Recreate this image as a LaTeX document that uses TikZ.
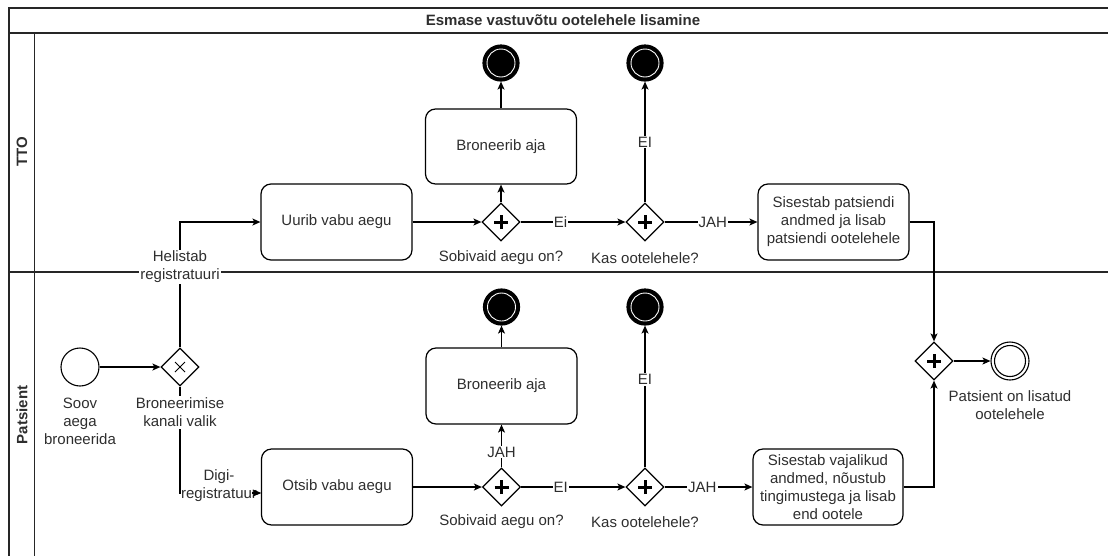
\documentclass[tikz,border=0pt]{standalone}
\usepackage{fontspec}
\setmainfont{Liberation Sans}
\usetikzlibrary{arrows.meta,shapes.geometric,calc}
\begin{document}
\begin{tikzpicture}[x=1pt,y=-1pt,
  every node/.style={text=black!82, font=\fontsize{15}{18}\selectfont},
  frame/.style={draw=black!85, line width=1.3pt},
  task/.style={draw, rounded corners=10pt, minimum width=151pt, minimum height=76pt, inner sep=2pt, align=center, line width=1.2pt},
  gw/.style={diamond, draw, aspect=1, minimum width=38pt, minimum height=38pt, inner sep=0pt, line width=1.2pt},
  gwplus/.style={gw, path picture={\draw[black, line width=3pt] ([xshift=-7pt]path picture bounding box.center) -- ([xshift=7pt]path picture bounding box.center) ([yshift=-7pt]path picture bounding box.center) -- ([yshift=7pt]path picture bounding box.center);}},
  gwx/.style={gw, path picture={\draw[black, line width=1pt] ([shift={(-5pt,-5pt)}]path picture bounding box.center) -- ([shift={(5pt,5pt)}]path picture bounding box.center) ([shift={(-5pt,5pt)}]path picture bounding box.center) -- ([shift={(5pt,-5pt)}]path picture bounding box.center);}},
  startev/.style={circle, draw, minimum size=38pt, inner sep=0pt, line width=1.1pt},
  endterm/.style={circle, draw, fill=black, minimum size=36pt, inner sep=0pt, line width=1.2pt, path picture={\draw[white, line width=0.9pt] (path picture bounding box.center) circle (14pt);}},
  endplain/.style={circle, draw, minimum size=38pt, inner sep=0pt, line width=1.1pt, path picture={\draw[black, line width=1.1pt] (path picture bounding box.center) circle (15.5pt);}},
  lbl/.style={fill=white, inner sep=1pt},
  txt/.style={align=center, inner sep=0pt},
  flow/.style={draw=black, line width=1.2pt, -{Stealth[length=8pt,width=7pt,inset=2pt]}}
]
\useasboundingbox (0,0) rectangle (1108,555);

% pool and lanes
\draw[frame] (9,560) -- (9,8) -- (1112,8);
\draw[frame] (9,33) -- (1112,33);
\draw[frame] (34.5,33) -- (34.5,560);
\draw[frame] (9,272) -- (1112,272);
\node[font=\bfseries\fontsize{15}{18}\selectfont] (title) at (563,20.5) {Esmase vastuvõtu ootelehele lisamine};
\node[rotate=90, font=\bfseries\fontsize{15}{18}\selectfont] (tto) at (22,152) {TTO};
\node[rotate=90, font=\bfseries\fontsize{15}{18}\selectfont] (pat) at (22,415) {Patsient};

% TTO lane
\node[task] (uurib) at (336.5,222) {Uurib vabu aegu};
\node[task, minimum height=75pt] (bron1) at (501,146.5) {Broneerib aja};
\node[endterm] (end1) at (501,63) {};
\node[gwplus] (g1) at (501,222) {};
\node[gwplus] (g2) at (645,222) {};
\node[endterm] (end2) at (645,63) {};
\node[task] (sis1) at (833.5,222) {Sisestab patsiendi\\andmed ja lisab\\patsiendi ootelehele};
\node[txt] (g1t) at (501,258) {Sobivaid aegu on?};
\node[txt] (g2t) at (645,258) {Kas ootelehele?};

% Patsient lane
\node[startev] (start) at (80,367) {};
\node[txt] (startt) at (80,421) {Soov\\aega\\broneerida};
\node[gwx] (xg) at (180,367) {};
\node[task] (otsib) at (337,487) {Otsib vabu aegu};
\node[task] (bron2) at (501.5,386) {Broneerib aja};
\node[endterm] (end3) at (501.5,307) {};
\node[gwplus] (g3) at (501.5,487) {};
\node[gwplus] (g4) at (645,487) {};
\node[endterm] (end4) at (645,307) {};
\node[task, minimum width=150pt] (sis2) at (828,487) {Sisestab vajalikud\\andmed, nõustub\\tingimustega ja lisab\\end ootele};
\node[txt] (g3t) at (501.5,522) {Sobivaid aegu on?};
\node[txt] (g4t) at (645,522) {Kas ootelehele?};
\node[gwplus] (gf) at (934,361) {};
\node[endplain] (endf) at (1010,361) {};
\node[txt] (endft) at (1010,405) {Patsient on lisatud\\ootelehele};

% connectors
\draw[flow] (start) -- (xg);
\draw[flow] (xg.north) |- (uurib.west);
\node[lbl, align=center] (helt) at (180,267) {Helistab\\registratuuri};
\draw[flow] (xg.south) |- ([yshift=-6pt]otsib.west);
\node[txt, fill=white, inner ysep=2pt] (xgt) at (180,412) {Broneerimise\\kanali valik};
\node[lbl, align=center, inner sep=0.5pt] (digit) at (219,486) {Digi-\\registratuur};
\draw[flow] ([shift={(-9pt,-6pt)}]otsib.west) -- ([yshift=-6pt]otsib.west);

\draw[flow] (uurib) -- (g1);
\draw[flow] (g1) -- (bron1);
\draw[flow] (bron1) -- (end1);
\draw[flow] (g1) -- node[lbl, pos=0.38] (l1) {Ei} (g2);
\draw[flow] (g2) -- node[lbl, pos=0.5] (l2) {EI} (end2);
\draw[flow] (g2) -- node[lbl, pos=0.52] (l3) {JAH} (sis1);
\draw[flow] (sis1.east) -| (gf.north);

\draw[flow] (otsib) -- (g3);
\draw[flow] (g3) -- node[lbl, pos=0.36] (l4) {JAH} (bron2);
\draw[flow] (bron2) -- (end3);
\draw[flow] (g3) -- node[lbl, pos=0.38] (l5) {EI} (g4);
\draw[flow] (g4) -- node[lbl, pos=0.62] (l6) {EI} (end4);
\draw[flow] (g4) -- node[lbl, pos=0.43] (l7) {JAH} (sis2);
\draw[flow] (sis2.east) -| (gf.south);
\draw[flow] (gf) -- (endf);
\end{tikzpicture}
\end{document}
